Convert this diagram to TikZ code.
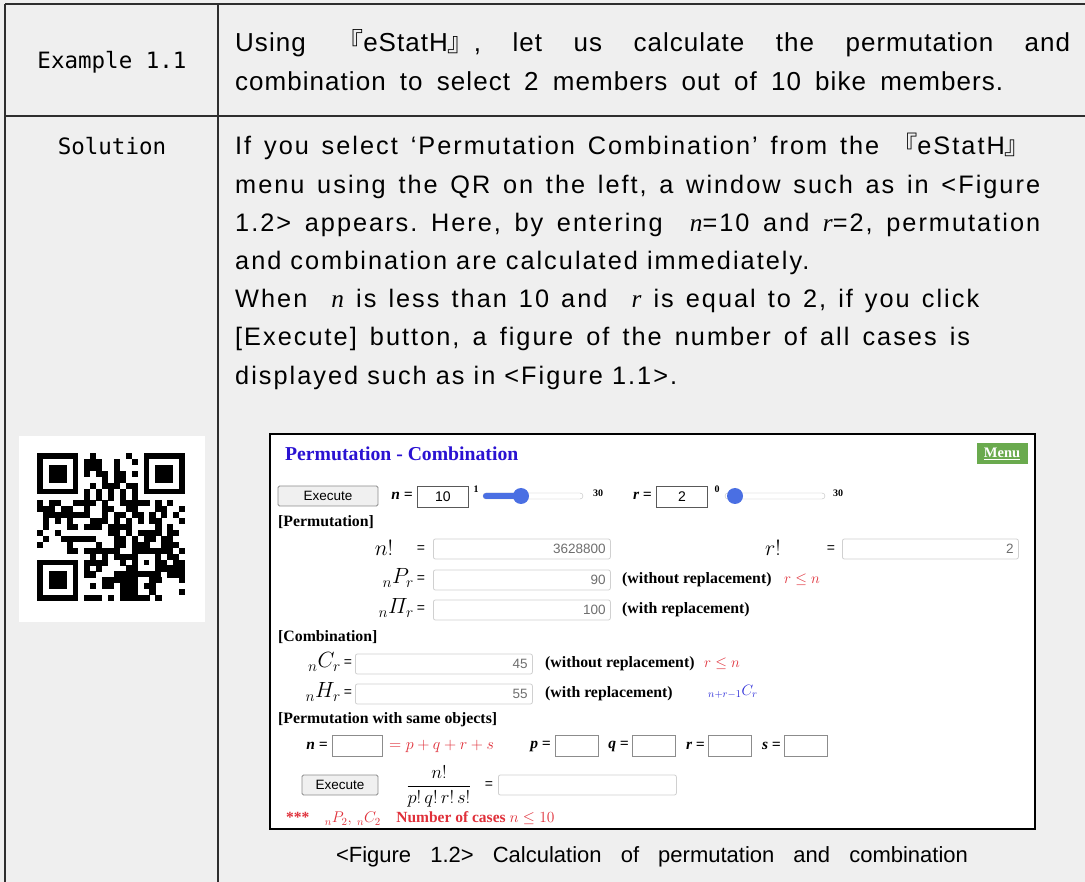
\RequirePackage{fix-cm}
\documentclass[tikz,border=0pt]{standalone}
\usepackage{amsmath}
\usepackage{fontspec}
\setmainfont{Liberation Sans}
\newfontfamily\bodyfont[LetterSpace=8]{Liberation Sans}
\newfontfamily\headfont[LetterSpace=4]{Liberation Sans}
\newfontfamily\cjkfont{Noto Sans CJK KR}
\newfontfamily\labelfont{DejaVu Sans Mono}
\newfontfamily\webfont{Liberation Serif}
\usetikzlibrary{positioning}
\frenchspacing

\definecolor{pagegray}{HTML}{EFEFEF}
\definecolor{rulegray}{HTML}{2E2E2E}
\definecolor{titleblue}{HTML}{2A12D2}
\definecolor{menugreen}{HTML}{6AAA4E}
\definecolor{mathred}{HTML}{E0303A}
\definecolor{mathblue}{HTML}{2A2AD8}
\definecolor{sliderblue}{HTML}{4A6FE3}
\definecolor{boxedge}{HTML}{D0D0D0}
\definecolor{valgray}{HTML}{6E6E6E}

\newcommand{\qopen}{{\cjkfont 『}}
\newcommand{\qclose}{{\cjkfont 』}}
\newcommand{\tvar}[1]{{\webfont\itshape #1}}
\def\qm{5.92}

\tikzset{
  headtext/.style={anchor=base west,inner sep=0pt,font=\headfont\fontsize{26}{30}\selectfont},
  bodytext/.style={anchor=base west,inner sep=0pt,font=\bodyfont\fontsize{25.3}{30}\selectfont},
  celllabel/.style={inner sep=0pt,font=\labelfont\fontsize{22.5}{26}\selectfont},
  webbold/.style={inner sep=0pt,font=\webfont\bfseries\fontsize{15.8}{18}\selectfont},
  webvar/.style={inner sep=0pt,font=\webfont\bfseries\itshape\fontsize{15.5}{18}\selectfont},
  webmath/.style={inner sep=0pt,font=\fontsize{22}{24}\selectfont},
  eqsign/.style={inner sep=0pt,font=\fontsize{14}{16}\selectfont},
  outbox/.style={draw=boxedge,fill=white,rounded corners=2pt,line width=0.8pt,
    minimum height=20pt,anchor=west,inner sep=0pt},
  inbox/.style={draw=black!65,fill=white,line width=0.8pt,
    minimum height=21pt,anchor=west,inner sep=0pt,font=\fontsize{14}{16}\selectfont},
  valtext/.style={inner sep=0pt,text=valgray,font=\fontsize{13.5}{15}\selectfont},
  execbtn/.style={draw=black!45,fill=black!6,rounded corners=1.5pt,line width=0.8pt,
    minimum height=20pt,inner sep=0pt,font=\fontsize{13.5}{15}\selectfont},
  ticklabel/.style={inner sep=0pt,font=\webfont\bfseries\fontsize{10}{11}\selectfont}
}

\begin{document}
\begin{tikzpicture}[x=1pt,y=-1pt]
  % 背景と表の罫線
  \useasboundingbox (0,0) rectangle (1085,882);
  \fill[pagegray] (0,0) rectangle (1085,882);
  \draw[rulegray,line width=1.4pt] (5,4) -- (1085,4);
  \draw[rulegray,line width=1.4pt] (5,116) -- (1085,116);
  \draw[rulegray,line width=1.4pt] (5,4) -- (5,882);
  \draw[rulegray,line width=1.4pt] (218,4) -- (218,882);

  % 見出しの行
  \node[celllabel] (exlabel) at (112,62) {Example 1.1};
  \node[headtext] (head1) at (235,52)
    {\makebox[835pt][s]{Using \qopen eStatH\qclose, let us calculate the permutation and}};
  \node[headtext] (head2) at (235,91)
    {\makebox[768pt][s]{combination to select 2 members out of 10 bike members.}};

  % 解答の本文
  \node[celllabel] (sollabel) at (112,146) {Solution};
  \node[bodytext] (line1) at (235,155)
    {\makebox[795pt][s]{If you select ‘Permutation Combination’ from the \qopen eStatH\qclose}};
  \node[bodytext] (line2) at (235,193.2)
    {\makebox[805pt][s]{menu using the QR on the left, a window such as in <Figure}};
  \node[bodytext] (line3) at (235,231.4)
    {\makebox[805pt][s]{1.2> appears. Here, by entering \ \tvar{n}=10 and \tvar{r}=2, permutation}};
  \node[bodytext] (line4) at (235,269.6) {and combination are calculated immediately.};
  \node[bodytext] (line5) at (235,307.8)
    {\makebox[744pt][s]{When \ \tvar{n} is less than 10 and \ \tvar{r} is equal to 2, if you click}};
  \node[bodytext] (line6) at (235,346)
    {\makebox[735pt][s]{[Execute] button, a figure of the number of all cases is}};
  \node[bodytext] (line7) at (235,384.2) {displayed such as in <Figure 1.1>.};

  % QRコード
  \fill[white] (19,436) rectangle (205,622);
  \foreach \cx/\cy in {0/0,18/0,0/18}{
    \fill ({37+\cx*\qm},{453+\cy*\qm}) rectangle ++({7*\qm},{7*\qm});
    \fill[white] ({37+(\cx+1)*\qm},{453+(\cy+1)*\qm}) rectangle ++({5*\qm},{5*\qm});
    \fill ({37+(\cx+2)*\qm},{453+(\cy+2)*\qm}) rectangle ++({3*\qm},{3*\qm});
  }
  \fill ({37+16*\qm},{453+16*\qm}) rectangle ++({5*\qm},{5*\qm});
  \fill[white] ({37+17*\qm},{453+17*\qm}) rectangle ++({3*\qm},{3*\qm});
  \fill ({37+18*\qm},{453+18*\qm}) rectangle ++({\qm},{\qm});
  \foreach \k in {8,10,...,16}{
    \fill ({37+\k*\qm},{453+6*\qm}) rectangle ++({\qm},{\qm});
    \fill ({37+6*\qm},{453+\k*\qm}) rectangle ++({\qm},{\qm});
  }
  \pgfmathsetseed{2024}
  \foreach \i in {0,...,24}{
    \foreach \j in {0,...,24}{
      \pgfmathtruncatemacro\qrfree{!(((\i<8)&&(\j<8))||((\i>16)&&(\j<8))||((\i<8)&&(\j>16))||((\i>15)&&(\i<21)&&(\j>15)&&(\j<21))||(\i==6)||(\j==6))}
      \pgfmathtruncatemacro\qrbit{rnd<0.52}
      \ifnum\qrfree=1 \ifnum\qrbit=1
        \fill ({37+\i*\qm},{453+\j*\qm}) rectangle ++({\qm+0.2},{\qm+0.2});
      \fi\fi
    }
  }

  % 画面の枠
  \draw[black,line width=1.6pt,fill=white] (270,434) rectangle (1035,829);
  \node[inner sep=0pt,anchor=west,text=titleblue,font=\webfont\bfseries\fontsize{19.7}{22}\selectfont]
    (title) at (285,454) {Permutation - Combination};
  \node[fill=menugreen,minimum width=51pt,minimum height=21pt,inner sep=0pt,text=white,
    font=\webfont\bfseries\fontsize{14.5}{16}\selectfont] (menu) at (1002,454) {\underline{Menu}};

  % 1行目：nとrの入力
  \node[execbtn,minimum width=100pt] (exec1) at (328,496) {Execute};
  \node[webvar,anchor=east] (nlab) at (413,496) {n =};
  \node[inbox,minimum width=51pt] (nbox) at (417,497) {10};
  \node[ticklabel] (nlow) at (476,489) {1};
  \draw[draw=black!25,fill=white,rounded corners=3pt] (483,493) rectangle (583,499);
  \fill[sliderblue,rounded corners=3pt] (483,493) rectangle (521,499);
  \fill[sliderblue] (521,496) circle (8);
  \node[ticklabel] (nhigh) at (598,493) {30};
  \node[webvar,anchor=east] (rlab) at (652,496) {r =};
  \node[inbox,minimum width=51pt] (rbox) at (656,497) {2};
  \node[ticklabel] (rlow) at (717,489) {0};
  \draw[draw=black!25,fill=white,rounded corners=3pt] (725,493) rectangle (825,499);
  \fill[sliderblue] (735,496) circle (8);
  \node[ticklabel] (rhigh) at (838,493) {30};

  % 順列
  \node[webbold,anchor=west] (permhead) at (278,522) {[Permutation]};
  \node[webmath] (nfact) at (384,548) {$n!$};
  \node[eqsign] (eq1) at (421,549) {=};
  \node[outbox,minimum width=177pt] (nfactbox) at (433,549) {};
  \node[valtext,left=5pt of nfactbox.east] (nfactval) {3628800};
  \node[webmath] (rfact) at (773,548) {$r!$};
  \node[eqsign] (eq2) at (831,549) {=};
  \node[outbox,minimum width=176pt] (rfactbox) at (842,549) {};
  \node[valtext,left=5pt of rfactbox.east] (rfactval) {2};
  \node[webmath,anchor=east] (perm) at (414,578) {$_nP_r$};
  \node[eqsign] (eq3) at (421,579) {=};
  \node[outbox,minimum width=177pt] (permbox) at (433,580) {};
  \node[valtext,left=5pt of permbox.east] (permval) {90};
  \node[webbold,anchor=west] (permnote) at (622,580) {(without replacement)};
  \node[webmath,anchor=west,text=mathred,font=\fontsize{15}{17}\selectfont] (permcond) at (784,580) {$r\leq n$};
  \node[webmath,anchor=east] (rperm) at (414,608) {$_n\varPi_r$};
  \node[eqsign] (eq4) at (421,609) {=};
  \node[outbox,minimum width=177pt] (rpermbox) at (433,610) {};
  \node[valtext,left=5pt of rpermbox.east] (rpermval) {100};
  \node[webbold,anchor=west] (rpermnote) at (622,610) {(with replacement)};

  % 組合せ
  \node[webbold,anchor=west] (combhead) at (278,637) {[Combination]};
  \node[webmath,anchor=east] (comb) at (341,662) {$_nC_r$};
  \node[eqsign] (eq5) at (348,663) {=};
  \node[outbox,minimum width=177pt] (combbox) at (355,664) {};
  \node[valtext,left=5pt of combbox.east] (combval) {45};
  \node[webbold,anchor=west] (combnote) at (545,664) {(without replacement)};
  \node[webmath,anchor=west,text=mathred,font=\fontsize{15}{17}\selectfont] (combcond) at (704,664) {$r\leq n$};
  \node[webmath,anchor=east] (rcomb) at (341,692) {$_nH_r$};
  \node[eqsign] (eq6) at (348,693) {=};
  \node[outbox,minimum width=177pt] (rcombbox) at (355,694) {};
  \node[valtext,left=5pt of rcombbox.east] (rcombval) {55};
  \node[webbold,anchor=west] (rcombnote) at (545,694) {(with replacement)};
  \node[webmath,anchor=west,text=mathblue,font=\fontsize{15}{17}\selectfont] (rcombform) at (708,692) {$_{n+r-1}C_r$};

  % 同じものを含む順列
  \node[webbold,anchor=west] (samehead) at (278,720) {[Permutation with same objects]};
  \node[webvar,anchor=east] (snlab) at (328,746) {n =};
  \node[inbox,minimum width=50pt,draw=black!45] (snbox) at (332,746) {};
  \node[webmath,anchor=west,text=mathred,font=\fontsize{16}{18}\selectfont] (sum) at (389,746) {$=p+q+r+s$};
  \node[webvar,anchor=east] (plab) at (551,746) {p =};
  \node[inbox,minimum width=43pt,draw=black!45] (pbox) at (555,746) {};
  \node[webvar,anchor=east] (qlab) at (629,746) {q =};
  \node[inbox,minimum width=43pt,draw=black!45] (qbox) at (632,746) {};
  \node[webvar,anchor=east] (srlab) at (705,746) {r =};
  \node[inbox,minimum width=43pt,draw=black!45] (srbox) at (708,746) {};
  \node[webvar,anchor=east] (slab) at (781,746) {s =};
  \node[inbox,minimum width=43pt,draw=black!45] (sbox) at (784,746) {};
  \node[execbtn,minimum width=76pt] (exec2) at (340,785) {Execute};
  \node[webmath,font=\fontsize{18.5}{20}\selectfont] (frac) at (439,786) {$\dfrac{n!}{p!\,q!\,r!\,s!}$};
  \node[eqsign] (eq7) at (489,785) {=};
  \node[outbox,minimum width=178pt] (fracbox) at (498,785) {};
  \node[anchor=west,inner sep=0pt,text=mathred,font=\webfont\bfseries\fontsize{15.5}{17}\selectfont]
    (cases) at (286,819) {***\quad$_nP_2,\,_nC_2$\quad Number of cases $n\leq 10$};

  % 図の見出し
  \node[inner sep=0pt,font=\fontsize{22}{25}\selectfont] (caption) at (652,857)
    {\makebox[632pt][s]{<Figure 1.2> Calculation of permutation and combination}};
\end{tikzpicture}
\end{document}
